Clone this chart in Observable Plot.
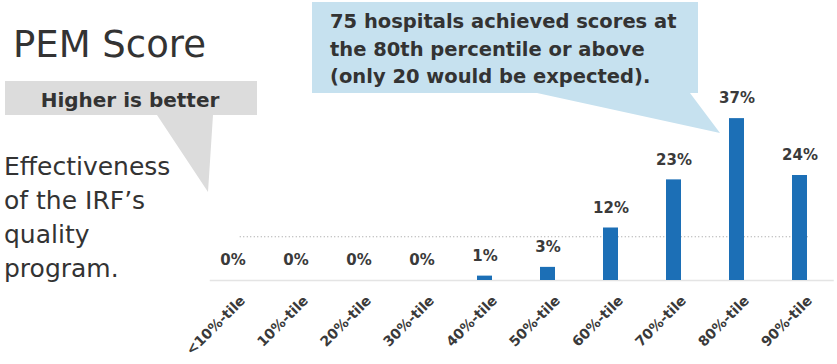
<!DOCTYPE html>
<html>
<head>
<meta charset="utf-8">
<script src="https://cdn.jsdelivr.net/npm/d3@7"></script>
<script src="https://cdn.jsdelivr.net/npm/@observablehq/plot@0.6"></script>
<style>
  html, body { margin: 0; padding: 0; background: #fff; }
  #chart svg { display: block; }
</style>
</head>
<body>
<div id="chart"></div>
<script>
// ---- data ----
const categories = ["<10%-tile", "10%-tile", "20%-tile", "30%-tile", "40%-tile",
                    "50%-tile", "60%-tile", "70%-tile", "80%-tile", "90%-tile"];
const values = [0, 0, 0, 0, 1, 3, 12, 23, 37, 24];
const expectedShare = 10; // expected share per decile (dotted line)

const titleText = "PEM Score";
const noteText = "Higher is better";
const sideLines = ["Effectiveness", "of the IRF\u2019s", "quality", "program."];
const calloutLines = ["75 hospitals achieved scores at",
                      "the 80th percentile or above",
                      "(only 20 would be expected)."];

const data = categories.map((c, i) => ({cat: c, value: values[i]}));

const chart = Plot.plot({
  width: 837,
  height: 364,
  marginTop: 105,
  marginBottom: 84,
  marginLeft: 198.75,
  marginRight: 3.25,
  x: {domain: categories, paddingInner: 0.76, paddingOuter: 0.38, axis: null},
  y: {domain: [0, 40], axis: null},
  style: {fontFamily: "'DejaVu Sans', sans-serif", background: "#fff", overflow: "visible"},
  marks: [
    Plot.ruleY([0], {stroke: "#e4e4e4", strokeWidth: 1.5, insetLeft: 11}),
    Plot.ruleY([expectedShare], {stroke: "#9a9a9a", strokeDasharray: "1 2.5", insetLeft: 41, insetRight: 24}),
    Plot.barY(data, {x: "cat", y: "value", fill: "#1c6fb6"}),
    Plot.text(data, {x: "cat", y: "value", text: d => d.value + "%", dy: -20,
                     fontSize: 15, fontWeight: "bold", fill: "#3a3a3a"}),
    Plot.text(data, {x: "cat", y: () => 0, text: "cat", rotate: -45, textAnchor: "end",
                     lineAnchor: "bottom", dx: 13, dy: 21, fontSize: 14, fontWeight: "bold", fill: "#3a3a3a"})
  ]
});

document.getElementById("chart").appendChild(chart);

// ---- annotations (drawn behind the marks) ----
const svg = d3.select(chart);
const g = svg.insert("g", ":first-child").attr("class", "annotations");

// grey "Higher is better" callout
g.append("path")
  .attr("d", "M5,81 H257 V115 H213 L208,192 L157,115 H5 Z")
  .attr("fill", "#dcdcdc");
// blue callout
g.append("path")
  .attr("d", "M312,2 H698 V93 H690 L720,133 L537,93 H312 Z")
  .attr("fill", "#c6e1ef");

const fg = svg.append("g").attr("class", "annotation-text")
  .attr("font-family", "'DejaVu Sans', sans-serif").attr("fill", "#333")
  .attr("text-anchor", "start");

fg.append("text").attr("x", 13).attr("y", 57).attr("font-size", 37).text(titleText);
fg.append("text").attr("x", 130).attr("y", 107).attr("font-size", 20)
  .attr("font-weight", "bold").attr("text-anchor", "middle").text(noteText);
sideLines.forEach((t, i) => {
  fg.append("text").attr("x", 4).attr("y", 175 + i * 34).attr("font-size", 25).text(t);
});
calloutLines.forEach((t, i) => {
  fg.append("text").attr("x", 330).attr("y", 28 + i * 27.5).attr("font-size", 19.5)
    .attr("font-weight", "bold").text(t);
});
</script>
</body>
</html>
